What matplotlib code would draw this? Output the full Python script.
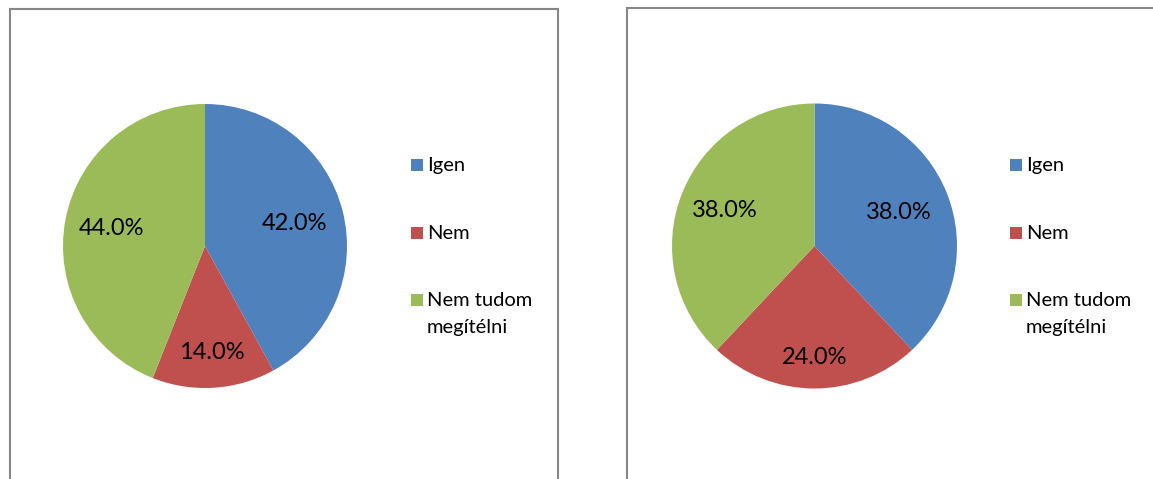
import matplotlib.pyplot as plt
from matplotlib.patches import Rectangle
import numpy as np

plt.rcParams['font.family'] = ['Lato', 'DejaVu Sans']

labels = ['Igen', 'Nem', 'Nem tudom\nmegítélni']
left_vals = [42.0, 14.0, 44.0]
right_vals = [38.0, 24.0, 38.0]
colors = ['#4F81BD', '#C0504D', '#9BBB59']

W, H = 1153, 479
fig = plt.figure(figsize=(W / 100, H / 100), dpi=100)


def fx(x):
    return x / W


def fy(y):
    return 1 - y / H


def draw_pie(cx, cy, r, vals, dists, lx):
    ax = fig.add_axes([(cx - r) / W, (H - cy - r) / H, 2 * r / W, 2 * r / H])
    wedges, _, autos = ax.pie(vals, colors=colors, startangle=90, counterclock=False,
                              autopct='%.1f%%', radius=1,
                              wedgeprops=dict(linewidth=0),
                              textprops=dict(fontsize=17, color='black'))
    for w, t, d in zip(wedges, autos, dists):
        a = np.deg2rad((w.theta1 + w.theta2) / 2)
        t.set_position((d * np.cos(a), d * np.sin(a)))
    ax.set_xlim(-1, 1)
    ax.set_ylim(-1, 1)

    # legend, Excel style: square key lined up with the first text line
    for i, (w, lab) in enumerate(zip(wedges, labels)):
        yc = 165 + i * 67.5
        fig.patches.append(Rectangle((fx(lx), fy(yc + 6)), 12 / W, 12 / H,
                                     transform=fig.transFigure,
                                     facecolor=w.get_facecolor(), edgecolor='none'))
        for j, line in enumerate(lab.split('\n')):
            fig.text(fx(lx + 16), fy(yc + 6.5 + j * 26), line, fontsize=14.5,
                     va='baseline', ha='left', color='black')
    return ax


draw_pie(205, 246, 142, left_vals, [0.65, 0.75, 0.67], 411)
draw_pie(814.5, 246, 142.5, right_vals, [0.64, 0.78, 0.68], 1010)

# chart area frames (cut off at the bottom)
fig.patches.append(Rectangle((10 / W, -0.1), (558 - 10) / W, (H - 9) / H + 0.1,
                             transform=fig.transFigure, fill=False,
                             edgecolor='#868686', lw=1.5))
fig.patches.append(Rectangle((627 / W, -0.1), (1180 - 627) / W, (H - 8) / H + 0.1,
                             transform=fig.transFigure, fill=False,
                             edgecolor='#868686', lw=1.5))

plt.savefig('out.png', dpi=100)
